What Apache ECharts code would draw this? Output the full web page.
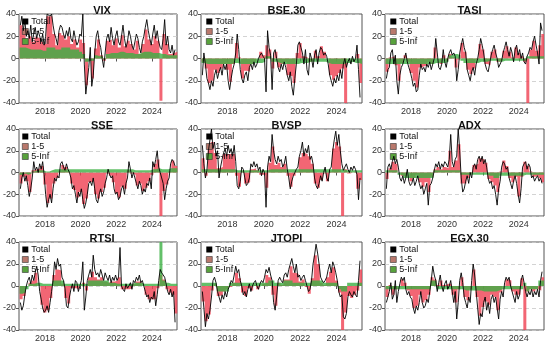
<!DOCTYPE html>
<html><head><meta charset="utf-8">
<script src="https://cdn.jsdelivr.net/npm/echarts@6/dist/echarts.min.js"></script>
<style>html,body{margin:0;padding:0;background:#fff}#c{width:550px;height:346px}</style>
</head><body><div id="c"></div>
<script>
// Panels
const panelNames = ['VIX','BSE.30','TASI','SSE','BVSP','ADX','RTSI','JTOPI','EGX.30'];
const yearTicks = [2018, 2020, 2022, 2024];
const yTickLabels = [-40, -20, 0, 20, 40];
// Monthly "Total" series, Aug 2016 .. Apr 2025 (105 months)
const total_VIX = [30,38,25,35,20,
 25,18,30,15,22,28,18,25,20,15,22,12,
 20,40,40,38,40,30,22,18,12,25,30,28,
 22,18,25,20,28,18,15,25,18,12,15,22,
 20,40,-5,-32,-20,-8,10,-25,-15,5,20,25,
 15,10,0,-8,5,18,22,15,28,18,12,20,
 25,15,12,20,30,18,10,15,25,20,12,8,
 15,22,18,10,5,15,20,28,35,25,18,12,
 22,30,18,25,15,10,8,18,35,12,20,8,
 5,12,3,8];
const total_BSE = [-15,5,-5,-18,-22,
 -28,-20,-25,-15,-10,-18,-12,-8,-15,-5,-10,-5,
 -20,-28,-18,-10,-5,5,22,8,-10,-18,-22,-15,
 -12,-20,-8,-5,-10,-3,-8,-5,0,3,5,2,
 0,-30,25,10,3,-28,5,8,0,-8,-12,-5,
 -10,-3,-8,-15,-20,-12,-25,-33,-18,-5,12,15,
 10,5,-5,8,-10,-15,5,0,-8,3,8,-5,
 5,10,8,3,5,2,-5,-15,-20,-25,-18,-22,
 -15,-20,-10,-18,-5,0,-8,-3,0,-5,2,-3,
 0,12,-10,-35];
const total_TASI = [-18,-10,-8,5,8,
 -5,3,-20,-32,-15,-8,-5,0,5,-3,-8,-12,
 -18,-25,-22,-30,-28,-15,-5,-10,-8,-12,-5,-8,
 -3,-10,-5,0,18,5,-8,-10,-5,8,-3,-8,
 0,5,8,3,5,2,-20,-10,5,12,18,10,
 5,-10,-15,-20,-12,-8,-15,-5,0,8,18,12,
 5,-5,-10,-12,-5,3,8,12,5,0,-8,-5,
 -2,5,10,15,8,2,10,5,-3,8,12,3,
 8,0,5,-3,-5,2,5,10,8,15,20,12,
 5,-5,32,25];
const total_SSE = [-15,-5,0,-8,-3,
 -12,-22,-15,-5,10,2,5,0,8,3,10,-2,
 -20,-32,-25,-20,-28,-15,-5,-8,-3,-5,8,10,
 5,2,8,3,0,-5,-15,-12,-20,-28,-18,-22,
 -15,-25,-33,-28,-20,-10,-8,-12,-5,-15,-25,-28,
 -20,-15,-22,-18,-10,-5,3,-2,-5,-3,-15,-20,
 -18,-25,-22,-15,-12,-20,-10,-5,10,3,-5,0,
 -5,-10,-15,-8,-12,-20,-15,-18,-10,-12,-5,-15,
 10,5,12,20,5,0,-5,-10,-25,-15,-8,-5,
 8,12,10,6];
const total_BVSP = [25,8,-5,2,20,
 30,40,22,28,15,20,-5,5,12,18,22,15,
 25,18,22,15,25,10,-12,-15,-8,5,3,-5,
 -12,-10,-5,8,5,10,5,8,2,5,-3,3,
 0,-32,5,15,10,35,20,12,8,15,10,12,
 5,8,15,3,-5,-15,-8,-3,0,3,5,15,
 20,28,15,22,18,25,12,15,8,-5,-12,-15,
 -10,-3,-8,0,5,-5,-8,3,5,20,30,38,
 25,35,20,8,2,5,8,3,0,5,2,6,
 3,-2,-25,-5];
const total_ADX = [-15,5,8,3,10,
 15,8,12,5,-5,-8,-3,-10,-5,3,-8,-12,
 -10,-5,-12,-8,-3,-10,-15,-12,-20,-15,-10,-30,
 -12,-10,-5,2,8,5,10,3,8,5,10,8,
 5,12,35,10,5,12,15,40,20,-5,-18,-15,
 -8,-3,-10,0,-5,5,8,3,12,15,10,15,
 8,12,5,-5,-10,-8,-15,-12,-20,-30,-15,-8,
 5,10,8,3,5,-5,-10,-15,-8,-3,-10,-20,
 -28,-15,5,8,10,3,8,5,-5,-3,-8,-5,
 -3,-8,-5,-10];
const total_RTSI = [-15,-22,-18,-8,0,
 5,8,2,10,5,12,18,10,-5,-12,-20,-24,
 -22,-18,-24,-15,-5,5,22,15,25,18,20,8,
 5,-2,-18,-20,-10,-3,2,-5,5,3,-5,0,
 5,22,-22,-10,5,10,15,8,28,15,10,12,
 8,15,10,5,12,8,5,10,3,8,5,10,
 5,8,35,0,-3,-5,2,-2,0,3,-3,5,
 3,8,5,10,3,5,0,-5,-10,-8,-15,-10,
 -12,-5,-18,-8,5,15,12,13,8,2,-5,-8,
 -3,-10,-5,-33];
const total_JTOPI = [-5,-20,-37,-25,-30,
 -22,-10,5,8,3,-5,-10,-15,-8,-12,-5,-10,
 -3,0,5,3,10,18,12,15,5,0,-8,-5,
 -10,-3,2,-5,0,3,5,0,-3,2,5,3,
 8,15,12,17,10,5,-15,-22,-10,5,8,5,
 3,10,12,8,15,20,25,18,12,20,8,10,
 5,8,10,5,0,-5,-3,5,20,28,38,30,
 20,8,5,3,5,8,15,20,12,22,18,12,
 5,-5,-10,-8,-28,-30,-25,-10,-5,-8,-10,-5,
 -8,-10,5,23];
const total_EGX = [-15,-10,-5,3,-12,
 -8,5,-15,-5,2,8,5,8,-3,-8,-5,-10,
 -12,-20,-25,-18,-22,-15,-5,-15,-20,-18,-12,-15,
 -5,5,18,10,5,-5,3,10,0,-5,2,5,
 -3,0,5,-5,-15,-5,-30,-15,5,12,3,-10,
 -15,-20,-10,-15,5,20,10,-5,-20,-35,-25,-28,
 -15,-10,-22,-15,-25,-12,-8,-15,-10,-20,-30,-12,
 -5,-10,3,8,5,8,0,-5,-10,-15,-5,-12,
 -8,5,10,3,-5,-10,-5,-8,-3,-10,-5,-8,
 -3,-10,5,13];
// Two-monthly "1-5" series, Aug-Sep 2016 .. Apr-May 2025 (53 periods)
const r15_VIX = [30,26,18,20,15,19,18,15,13,38,38,22,12,23,21,17,20,13,17,10,17,14,-24,0,-18,9,17,3,-2,16,17,12,18,10,21,11,16,13,8,16,4,13,26,17,13,20,16,-38,22,13,4,5,6];
const r15_BSE = [-3,-9,-22,-20,-10,-13,-9,-5,-10,-21,-5,14,1,-18,-11,-12,-5,-3,0,6,3,12,8,-9,6,-8,-5,-3,-15,-16,-22,5,14,2,1,-3,-2,7,2,11,6,0,-15,-19,-16,-13,-9,-40,0,0,0,4,-22];
const r15_TASI = [-12,1,2,-6,-20,-4,3,-3,-13,-20,-26,-8,-7,-6,-3,-5,10,0,-5,3,-2,4,1,-8,-1,14,6,-10,-14,-9,-1,13,8,-5,-6,6,8,-3,-2,7,11,6,1,10,5,2,-3,-40,8,16,7,12,22];
const r15_SSE = [-10,-4,-8,-18,2,3,4,6,-11,-28,-24,-10,-5,1,7,5,1,-10,-16,-23,-18,-29,-24,-9,-8,-20,-24,-18,-14,-1,-3,-9,-19,-23,-13,-15,2,-1,-2,-12,-10,-17,-14,-8,-2,8,12,-40,-17,-11,1,11,6];
const r15_BVSP = [13,-3,22,28,18,4,5,17,17,17,17,-3,-13,1,-10,-9,3,4,2,-2,-2,-14,9,24,7,9,5,8,-3,-13,-3,1,14,18,17,15,8,-10,-14,-7,-1,-8,1,22,28,24,-40,3,-1,0,1,-15,-7];
const r15_ADX = [-6,4,10,8,0,-3,-4,0,-8,-5,-2,-9,-13,-9,-18,-4,3,5,3,5,4,20,5,11,26,-10,-10,-5,-1,7,8,13,12,9,-6,-9,-12,-18,1,11,6,-5,-9,-4,-22,-4,10,6,1,-4,-3,-5,-9];
const r15_RTSI = [-12,-9,0,3,5,12,0,-17,-24,-22,-11,10,15,14,2,-11,-16,-2,-2,-3,0,3,-4,8,13,8,6,8,4,3,4,4,5,8,-3,-3,-3,-2,2,4,4,0,-8,-12,-12,-12,-2,10,6,-3,-6,-8,-25];
const r15_JTOPI = [-14,-32,-26,-4,2,-9,-8,-5,-3,-1,3,12,7,-6,-9,-2,-4,1,-3,0,2,10,8,-8,-18,3,1,6,6,18,12,11,4,6,-1,-7,7,28,20,3,1,8,13,17,5,-6,-40,-24,-9,-11,-8,-4,15];
const r15_EGX = [-10,1,-8,-3,0,6,3,-4,-9,-20,-18,-8,-15,-13,-8,8,6,1,5,1,2,2,-8,-15,-3,8,-10,-13,-3,15,-10,-27,-19,-14,-17,-8,-10,-22,-6,0,6,5,-5,-8,-8,7,-40,-5,-3,-5,-3,-4,8];
// Two-monthly "5-Inf" series (53 periods)
const inf_VIX = [10,10,9,8,8,8,8,7,7,10,10,10,8,8,10,10,10,8,8,8,6,4,-3,-2,-2,3,2,2,-1,4,5,5,5,6,6,5,5,5,4,4,5,6,6,6,5,5,5,4,4,3,3,3,3];
const inf_BSE = [-4,-5,-5,-5,-5,-5,-5,-5,-5,-5,-4,-4,-5,-5,-5,-5,-5,-4,-4,-4,-3,2,2,-3,-3,-4,-5,-5,-5,-5,-5,-5,-4,-4,-4,-3,-3,-3,-3,-3,-3,-4,-5,-5,-5,-5,-5,-4,-4,-3,-4,-4,-5];
const inf_TASI = [-5,-5,-5,-5,-5,-5,-5,-5,-5,-5,-5,-5,-5,-5,-5,-5,-4,-4,-4,-4,-3,3,4,4,3,-2,-4,-4,-4,-4,-4,-3,-3,-3,-2,-2,-2,-3,-3,-2,-2,-2,-2,-2,-2,-2,-2,2,2,2,2,2,2];
const inf_SSE = [-2,-1,-2,-1,1,2,2,2,1,1,2,3,3,3,3,3,3,3,3,3,3,3,3,3,3,3,3,3,3,3,3,3,3,3,3,3,3,3,2,2,2,2,2,2,3,3,4,3,3,3,4,4,4];
const inf_BVSP = [3,3,3,3,3,3,3,3,3,3,3,2,2,2,2,2,2,2,2,2,2,2,3,3,3,3,3,3,3,3,3,3,3,3,3,3,3,3,3,3,3,3,3,3,3,3,3,2,2,2,2,2,2];
const inf_ADX = [2,2,2,2,-2,-3,-5,-5,-5,-5,-5,-5,-5,-5,-5,-5,2,2,2,2,2,2,2,2,2,-2,-2,-2,-2,-2,-2,-2,-2,-2,-3,-3,-5,-5,-3,-3,-3,-3,-3,-3,-3,-3,-2,-2,-2,-2,-2,-2,-2];
const inf_RTSI = [-7,-6,-3,2,2,3,3,2,2,2,2,5,5,5,5,2,2,2,2,2,2,2,2,5,5,5,5,5,5,5,3,3,2,2,2,2,2,2,3,3,3,2,2,2,2,2,2,40,5,3,2,2,2];
const inf_JTOPI = [3,3,3,3,3,-5,-5,-5,-5,3,3,3,3,3,3,3,3,3,3,3,3,3,5,5,3,3,3,5,5,5,3,3,3,3,3,3,5,5,5,5,3,3,3,3,3,-3,-5,-5,3,3,3,3,3];
const inf_EGX = [-3,-3,-3,-3,-3,-3,-3,-3,-3,-3,-3,-3,-3,-3,-3,5,5,-3,-3,-3,-3,-3,-3,-3,-3,-3,-4,-4,-4,-4,-4,-4,-5,-5,-5,-5,-5,-4,-3,-3,-3,-3,-3,-3,-3,-3,3,-5,-3,-3,-3,5,5];

const totals = [total_VIX,total_BSE,total_TASI,total_SSE,total_BVSP,total_ADX,total_RTSI,total_JTOPI,total_EGX];
const r15s = [r15_VIX,r15_BSE,r15_TASI,r15_SSE,r15_BVSP,r15_ADX,r15_RTSI,r15_JTOPI,r15_EGX];
const infs = [inf_VIX,inf_BSE,inf_TASI,inf_SSE,inf_BVSP,inf_ADX,inf_RTSI,inf_JTOPI,inf_EGX];

// Calendar: month midpoints from Aug 2016; two-month periods starting Aug 2016
const monthX = [];
for (let i = 0; i < 105; i++) monthX.push(2016 + (7 + i + 0.5) / 12);
const periodX = [];
for (let k = 0; k <= 53; k++) periodX.push(2016 + (7 + 2 * k) / 12);

const colLeft = [17, 201, 385], colWidth = [160, 161, 159];
const rowTop = [14, 129, 242], rowHeight = [89, 87, 88];
const FONT = 'Liberation Sans, Arial, sans-serif';
const RED = '#ef4455', GREEN = '#3cb043';

const option = { animation: false, grid: [], xAxis: [], yAxis: [], series: [], title: [], legend: [] };

function stepData(vals) {
  const d = vals.map((v, k) => [periodX[k], v]);
  d.push([periodX[vals.length], vals[vals.length - 1]]);
  return d;
}

panelNames.forEach((name, p) => {
  const r = Math.floor(p / 3), c = p % 3;
  const L = colLeft[c], T = rowTop[r], W = colWidth[c], H = rowHeight[r];
  option.grid.push({ left: L, top: T, width: W, height: H, show: true, borderColor: '#555', borderWidth: 1, backgroundColor: 'transparent' });
  option.xAxis.push({
    gridIndex: p, type: 'value', min: 2016.55, max: 2025.4,
    axisLine: { show: false },
    axisTick: { show: true, length: 3, lineStyle: { color: '#555' }, customValues: yearTicks },
    axisLabel: { show: true, fontSize: 9, color: '#333', fontFamily: FONT, margin: 4, customValues: yearTicks, formatter: v => String(v) },
    splitLine: { show: false }
  });
  option.yAxis.push({
    gridIndex: p, type: 'value', min: -40, max: 40, interval: 20,
    axisLine: { show: false },
    axisTick: { show: true, length: 3, lineStyle: { color: '#555' } },
    axisLabel: { fontSize: 9, color: '#333', fontFamily: FONT, margin: 3 },
    splitLine: { show: true, lineStyle: { color: '#c8c8c8', type: [4, 3], width: 0.8 } }
  });
  option.title.push({
    text: name, left: L + W / 2, top: T - 14, textAlign: 'center',
    textStyle: { fontSize: 11, fontWeight: 'bold', color: '#111', fontFamily: FONT }
  });
  option.legend.push({
    left: L + 5, top: T + 3, orient: 'vertical', itemWidth: 6, itemHeight: 6, itemGap: 1, padding: 0,
    icon: 'rect', textStyle: { fontSize: 9, color: '#111', fontFamily: FONT, padding: [0, 0, 0, -2] },
    data: [
      { name: 'Total', itemStyle: { color: '#000' } },
      { name: '1-5', itemStyle: { color: '#b9786c', borderColor: '#333', borderWidth: 0.6 } },
      { name: '5-Inf', itemStyle: { color: '#58a23c', borderColor: '#333', borderWidth: 0.6 } }
    ]
  });
  option.series.push({
    name: '1-5', type: 'line', xAxisIndex: p, yAxisIndex: p, step: 'end', symbol: 'none',
    data: stepData(r15s[p]), color: RED,
    lineStyle: { width: 0 }, areaStyle: { color: RED, opacity: 0.82 }, z: 2
  });
  option.series.push({
    name: '5-Inf', type: 'line', xAxisIndex: p, yAxisIndex: p, step: 'end', symbol: 'none',
    data: stepData(infs[p]), color: GREEN,
    lineStyle: { width: 0 }, areaStyle: { color: GREEN, opacity: 0.8 }, z: 3
  });
  option.series.push({
    name: 'Total', type: 'line', xAxisIndex: p, yAxisIndex: p, symbol: 'none',
    data: totals[p].map((v, i) => [monthX[i], v]), color: '#000',
    lineStyle: { width: 0.9, color: '#000' }, z: 4
  });
});

const chart = echarts.init(document.getElementById('c'), null, { renderer: 'canvas' });
chart.setOption(option);
</script></body></html>
